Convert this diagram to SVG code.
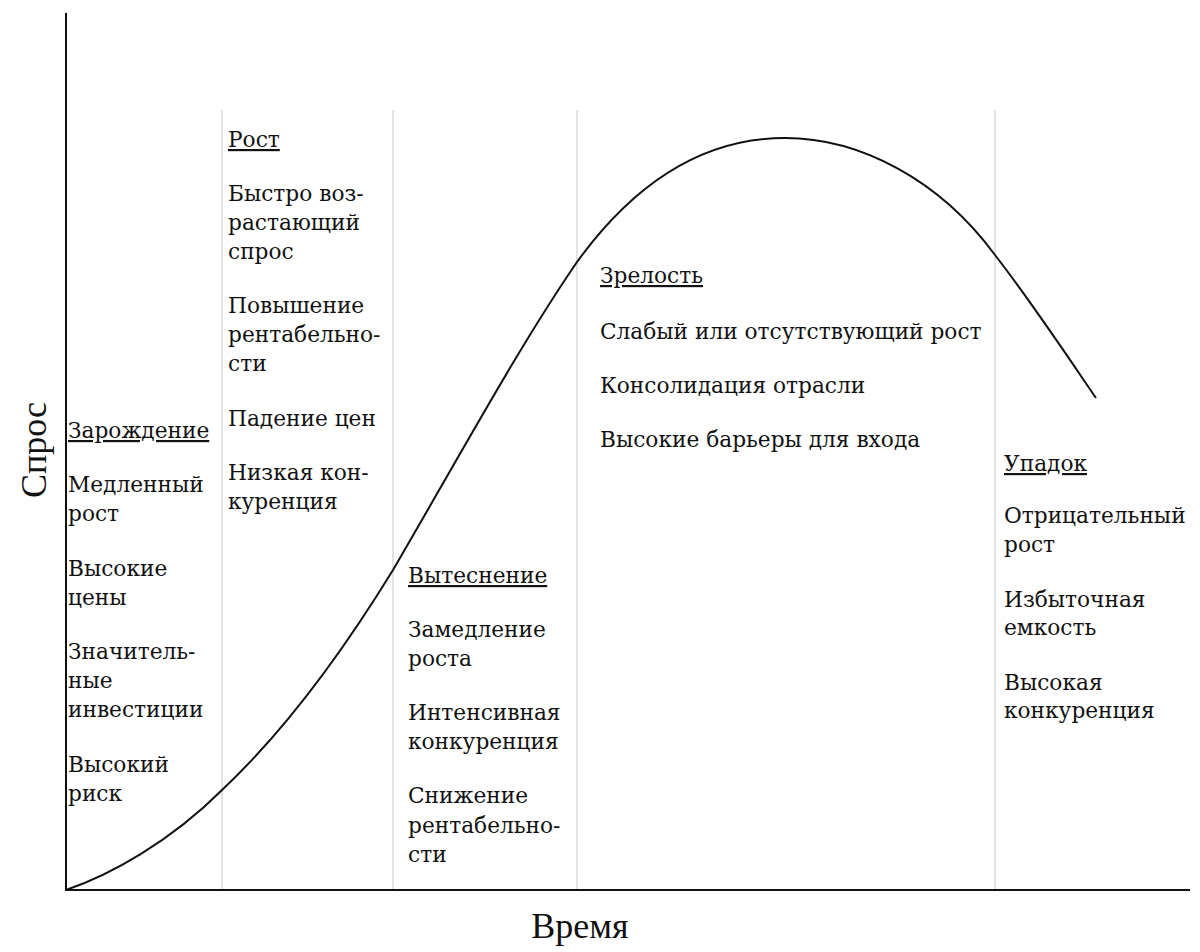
<svg xmlns="http://www.w3.org/2000/svg" width="1200" height="952" viewBox="0 0 1200 952">
<style>
.t{font-family:"DejaVu Serif","Liberation Serif",serif;font-size:21.7px;fill:#111}
.h{text-decoration:underline}
.ax{font-family:"Liberation Serif",serif;font-size:36px;fill:#111}
.g{stroke:#cfcfcf;stroke-width:1.2}
</style>
<rect width="1200" height="952" fill="#fff"/>
<g id="grid">
<line class="g" x1="222" y1="110" x2="222" y2="890"/>
<line class="g" x1="393" y1="110" x2="393" y2="890"/>
<line class="g" x1="577" y1="110" x2="577" y2="890"/>
<line class="g" x1="995" y1="110" x2="995" y2="890"/>
</g>
<g id="axes" stroke="#111" stroke-width="2">
<line x1="66" y1="13" x2="66" y2="891"/>
<line x1="65" y1="890" x2="1190" y2="890"/>
</g>
<g id="connectors">
<path d="M66,890 C110,875 170,842 222,790 C290,726 350,640 393,570 C460,455 520,345 577,262 C640,175 710,138 785,138 C860,138 940,180 995,255 C1030,300 1070,360 1096,398" fill="none" stroke="#111" stroke-width="2"/>
</g>
<g id="axis-labels">
<text class="ax" x="580" y="938" text-anchor="middle">Время</text>
<text class="ax" transform="translate(46,450) rotate(-90)" text-anchor="middle">Спрос</text>
</g>
<g id="stage-1">
<text class="t h" x="68" y="438">Зарождение</text>
<text class="t" x="68" y="492">Медленный</text>
<text class="t" x="68" y="521">рост</text>
<text class="t" x="68" y="576">Высокие</text>
<text class="t" x="68" y="605">цены</text>
<text class="t" x="68" y="659">Значитель-</text>
<text class="t" x="68" y="688">ные</text>
<text class="t" x="68" y="717">инвестиции</text>
<text class="t" x="68" y="772">Высокий</text>
<text class="t" x="68" y="801">риск</text>
</g>
<g id="stage-2">
<text class="t h" x="228" y="147">Рост</text>
<text class="t" x="228" y="201">Быстро воз-</text>
<text class="t" x="228" y="230">растающий</text>
<text class="t" x="228" y="259">спрос</text>
<text class="t" x="228" y="313">Повышение</text>
<text class="t" x="228" y="342">рентабельно-</text>
<text class="t" x="228" y="371">сти</text>
<text class="t" x="228" y="426">Падение цен</text>
<text class="t" x="228" y="480">Низкая кон-</text>
<text class="t" x="228" y="509">куренция</text>
</g>
<g id="stage-3">
<text class="t h" x="408" y="583">Вытеснение</text>
<text class="t" x="408" y="637">Замедление</text>
<text class="t" x="408" y="666">роста</text>
<text class="t" x="408" y="720">Интенсивная</text>
<text class="t" x="408" y="749">конкуренция</text>
<text class="t" x="408" y="803">Снижение</text>
<text class="t" x="408" y="833">рентабельно-</text>
<text class="t" x="408" y="862">сти</text>
</g>
<g id="stage-4">
<text class="t h" x="600" y="283">Зрелость</text>
<text class="t" x="600" y="339">Слабый или отсутствующий рост</text>
<text class="t" x="600" y="393">Консолидация отрасли</text>
<text class="t" x="600" y="447">Высокие барьеры для входа</text>
</g>
<g id="stage-5">
<text class="t h" x="1004" y="471">Упадок</text>
<text class="t" x="1004" y="523">Отрицательный</text>
<text class="t" x="1004" y="552">рост</text>
<text class="t" x="1004" y="607">Избыточная</text>
<text class="t" x="1004" y="635">емкость</text>
<text class="t" x="1004" y="690">Высокая</text>
<text class="t" x="1004" y="718">конкуренция</text>
</g>
</svg>
